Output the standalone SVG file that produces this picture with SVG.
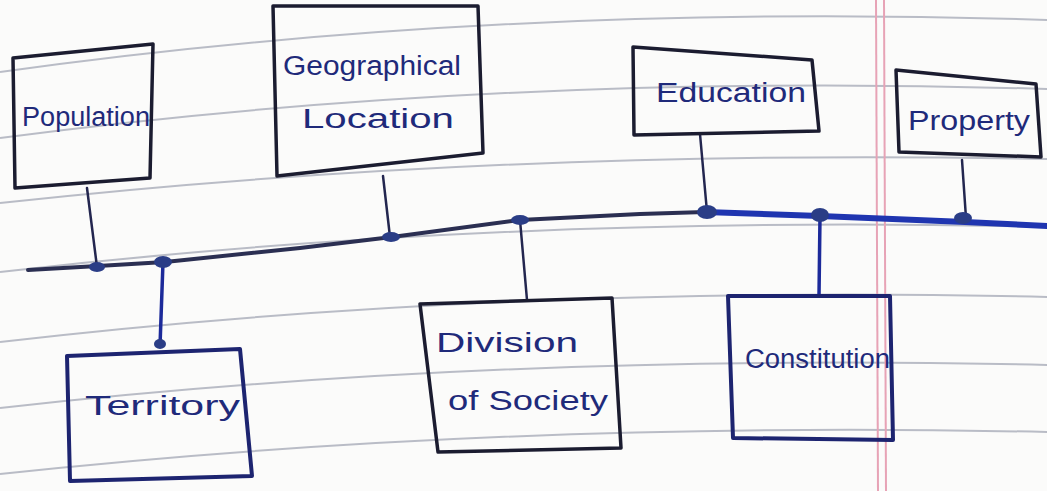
<svg xmlns="http://www.w3.org/2000/svg" width="1047" height="491" viewBox="0 0 1047 491">
<style>
.rule{fill:none;stroke:#b9bcc6;stroke-width:2}
.margin{stroke:#e7a3b6;stroke-width:2}
.box{fill:none;stroke:#1b1c30;stroke-width:3.5;stroke-linejoin:round}
.bluebox{fill:none;stroke:#1d2470;stroke-width:4;stroke-linejoin:round}
.lbl{font-family:"Liberation Sans","DejaVu Sans",sans-serif;font-size:27px;fill:#1f2a7a}
.conn{fill:none;stroke:#23264f;stroke-width:2.5;stroke-linecap:round}
.connb{fill:none;stroke:#1c2a9a;stroke-width:3.5;stroke-linecap:round}
.dot{fill:#2a3d86}
</style>
<rect width="1047" height="491" fill="#fbfbfa"/>
<g id="paper">
<path class="rule" d="M0,72 Q500,2 1047,20"/>
<path class="rule" d="M0,138 Q500,72 1047,89"/>
<path class="rule" d="M0,203 Q500,148 1047,159"/>
<path class="rule" d="M0,272 Q500,214 1047,227"/>
<path class="rule" d="M0,342 Q500,284 1047,297"/>
<path class="rule" d="M0,408 Q500,352 1047,365"/>
<path class="rule" d="M0,474 Q500,420 1047,432"/>
<line class="margin" x1="876" y1="0" x2="878" y2="491"/>
<line class="margin" x1="884" y1="0" x2="886" y2="491"/>
</g>
<g id="connectors">
<path d="M28,270 L98,266 L165,262 L300,248 L392,237 L520,220 L640,214 L705,212" fill="none" stroke="#2b2f52" stroke-width="4" stroke-linecap="round"/>
<path d="M705,212 L820,216 L965,222 L1047,226" fill="none" stroke="#1f35b0" stroke-width="6" stroke-linecap="round"/>
<path class="conn" d="M87,188 L97,267"/>
<path class="conn" d="M383,176 L390,237"/>
<path class="connb" d="M163,262 L160,346"/>
<path class="conn" d="M520,220 L527,300"/>
<path class="conn" d="M700,134 L707,212"/>
<path class="connb" d="M820,216 L819,296"/>
<path class="conn" d="M962,160 L966,218"/>
<ellipse class="dot" cx="97" cy="267" rx="8" ry="5"/>
<ellipse class="dot" cx="163" cy="262" rx="9" ry="6"/>
<ellipse class="dot" cx="391" cy="237" rx="9" ry="5"/>
<ellipse class="dot" cx="520" cy="220" rx="9" ry="5"/>
<ellipse class="dot" cx="707" cy="212" rx="10" ry="7"/>
<ellipse class="dot" cx="820" cy="215" rx="9" ry="7"/>
<ellipse class="dot" cx="963" cy="218" rx="9" ry="6"/>
<ellipse class="dot" cx="160" cy="344" rx="6" ry="5"/>
</g>
<g id="population">
<path class="box" d="M13,58 L153,44 L150,178 L15,188 Z"/>
<text class="lbl" x="22" y="126" font-size="25" textLength="128" lengthAdjust="spacingAndGlyphs">Population</text>
</g>
<g id="geographical-location">
<path class="box" d="M273,6 L478,6 L483,153 L277,176 Z"/>
<text class="lbl" x="283" y="75" font-size="28" textLength="178" lengthAdjust="spacingAndGlyphs">Geographical</text>
<text class="lbl" x="302" y="128" font-size="30" textLength="152" lengthAdjust="spacingAndGlyphs">Location</text>
</g>
<g id="education">
<path class="box" d="M633,47 L812,60 L819,131 L634,135 Z"/>
<text class="lbl" x="656" y="102" font-size="28" textLength="150" lengthAdjust="spacingAndGlyphs">Education</text>
</g>
<g id="property">
<path class="box" d="M896,70 L1036,84 L1041,157 L899,152 Z"/>
<text class="lbl" x="908" y="130" font-size="26" textLength="122" lengthAdjust="spacingAndGlyphs">Property</text>
</g>
<g id="territory">
<path class="bluebox" d="M67,356 L240,349 L252,476 L70,481 Z"/>
<text class="lbl" x="85" y="415" font-size="28" textLength="155" lengthAdjust="spacingAndGlyphs">Territory</text>
</g>
<g id="division-of-society">
<path class="box" d="M420,304 L612,298 L621,448 L438,452 Z"/>
<text class="lbl" x="436" y="352" font-size="29" textLength="142" lengthAdjust="spacingAndGlyphs">Division</text>
<text class="lbl" x="448" y="410" font-size="29" textLength="160" lengthAdjust="spacingAndGlyphs">of Society</text>
</g>
<g id="constitution">
<path class="bluebox" d="M728,296 L890,296 L893,440 L733,438 Z"/>
<text class="lbl" x="745" y="368" font-size="24" textLength="145" lengthAdjust="spacingAndGlyphs">Constitution</text>
</g>
</svg>
